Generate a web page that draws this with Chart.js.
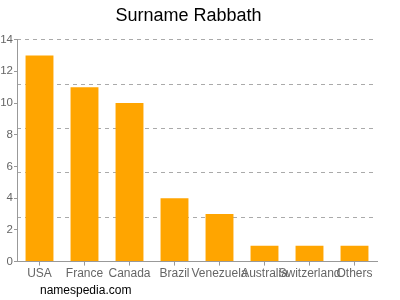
<!DOCTYPE html>
<html>
<head>
<meta charset="utf-8">
<script src="https://cdn.jsdelivr.net/npm/chart.js@4"></script>
<style>
html,body{margin:0;padding:0;background:#fff;}
#wrap{position:relative;width:400px;height:300px;}
#credit{position:absolute;left:40px;top:283px;font-family:"Liberation Sans",Arial,sans-serif;font-size:12px;color:#000;}
</style>
</head>
<body>
<div id="wrap">
<canvas id="c" width="400" height="300"></canvas>
<div id="credit">namespedia.com</div>
</div>
<script>
const categories = ["USA","France","Canada","Brazil","Venezuela","Australia","Switzerland","Others"];
const counts = [13, 11, 10, 4, 3, 1, 1, 1];
const yTicks = [0, 2, 4, 6, 8, 10, 12, 14];
const gridLevels = [0, 2.8, 5.6, 8.4, 11.2, 14];

const font = {family: '"Liberation Sans", Arial, sans-serif', size: 12};
const yFont = {family: '"Liberation Sans", Arial, sans-serif', size: 11.5};
new Chart(document.getElementById('c'), {
  type: 'bar',
  data: {
    labels: categories,
    datasets: [{data: counts, backgroundColor: '#ffa500', borderWidth: 0, categoryPercentage: 1, barPercentage: 0.62}]
  },
  options: {
    responsive: false,
    animation: false,
    layout: {padding: {left: 0, right: 23, top: 0, bottom: 18}},
    plugins: {
      legend: {display: false},
      tooltip: {enabled: false},
      title: {display: true, text: 'Surname Rabbath', color: '#000',
        font: {family: '"Liberation Sans", Arial, sans-serif', size: 18, weight: 'normal'},
        padding: {top: 5, bottom: 13}}
    },
    scales: {
      x: {
        grid: {display: true, drawOnChartArea: false, drawTicks: true, tickLength: 4, offset: false, color: '#999'},
        border: {display: true, color: '#999'},
        ticks: {color: '#666', font: font, padding: 1, maxRotation: 0, autoSkip: false}
      },
      y: {
        min: 0, max: 14,
        afterBuildTicks: s => { s.ticks = yTicks.map(v => ({value: v})); },
        afterFit: s => { s.width = 17; },
        grid: {drawOnChartArea: false, drawTicks: true, tickLength: 3, color: '#999'},
        border: {display: true, color: '#999'},
        ticks: {color: '#666', font: yFont, padding: 1}
      },
      yg: {
        position: 'left', min: 0, max: 14,
        afterBuildTicks: s => { s.ticks = gridLevels.map(v => ({value: v})); },
        afterFit: s => { s.width = 0; },
        ticks: {display: false},
        grid: {drawTicks: false, color: '#aaa'},
        border: {display: false, dash: [4, 4]}
      }
    }
  }
});
</script>
</body>
</html>
